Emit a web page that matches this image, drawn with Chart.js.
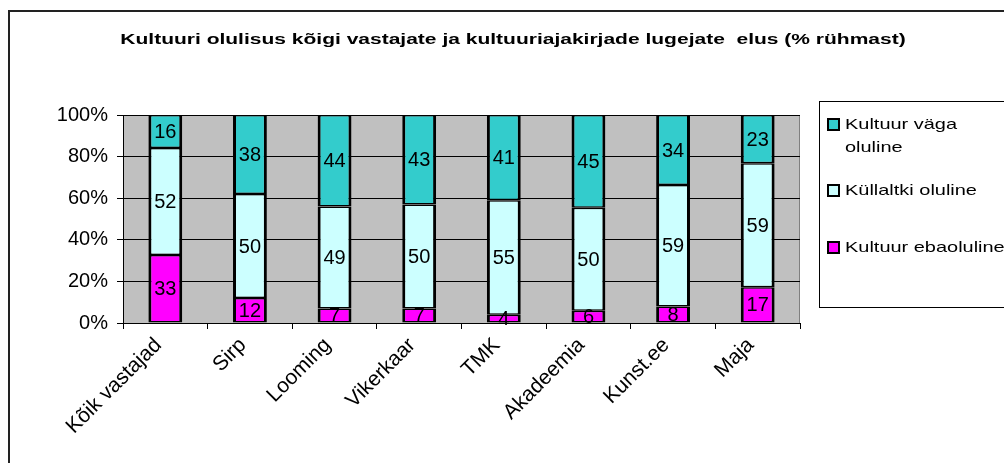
<!DOCTYPE html>
<html>
<head>
<meta charset="utf-8">
<script src="https://cdn.jsdelivr.net/npm/chart.js@4/dist/chart.umd.min.js"></script>
<style>
  html, body { margin: 0; padding: 0; background: #fff; }
  #wrap { position: relative; width: 1004px; height: 463px; overflow: hidden; }
  #frame { position: absolute; left: 8px; top: 10px; width: 1100px; height: 500px;
           border-left: 2px solid #222; border-top: 2px solid #222; }
  #c { position: absolute; left: 0; top: 0; }
</style>
</head>
<body>
<div id="wrap">
  <div id="frame"></div>
  <canvas id="c" width="1004" height="463"></canvas>
</div>
<script>
// Categories and raw values (% of group)
const categories = ["Kõik vastajad", "Sirp", "Looming", "Vikerkaar", "TMK", "Akadeemia", "Kunst.ee", "Maja"];
const vagaOluline = [16, 38, 44, 43, 41, 45, 34, 23];
const kullaltkiOluline = [52, 50, 49, 50, 55, 50, 59, 59];
const ebaoluline = [33, 12, 7, 7, 4, 6, 8, 17];
const yTicks = [0, 20, 40, 60, 80, 100];
const title = 'Kultuuri olulisus kõigi vastajate ja kultuuriajakirjade lugejate  elus (% rühmast)';

const FONT = "'Liberation Sans', Arial, sans-serif";
const STRETCH = 1.33; // the original picture is a bit wide in its title/legend text

// 100% stacked: share of each row total
const totals = categories.map((_, i) => vagaOluline[i] + kullaltkiOluline[i] + ebaoluline[i]);
const share = arr => arr.map((v, i) => v / totals[i] * 100);

function wideText(ctx, txt, x, y, sx) {
  ctx.save();
  ctx.translate(x, y);
  ctx.scale(sx, 1);
  ctx.fillText(txt, 0, 0);
  ctx.restore();
}

// grey plot background + title
const plotBg = {
  id: 'plotBg',
  beforeDraw(chart) {
    const { ctx, chartArea: a } = chart;
    ctx.save();
    ctx.fillStyle = '#C0C0C0';
    ctx.fillRect(a.left, a.top, a.right - a.left, a.bottom - a.top);
    ctx.strokeStyle = '#808080';
    ctx.lineWidth = 1;
    ctx.beginPath();
    ctx.moveTo(a.right - 0.5, a.top);
    ctx.lineTo(a.right - 0.5, a.bottom);
    ctx.stroke();

    ctx.fillStyle = '#000';
    ctx.font = 'bold 15px ' + FONT;
    ctx.textAlign = 'center';
    ctx.textBaseline = 'middle';
    wideText(ctx, title, 513, 40, 1.4);
    ctx.restore();
  }
};

// numbers in the middle of each segment
const segLabels = {
  id: 'segLabels',
  afterDatasetsDraw(chart) {
    const { ctx } = chart;
    ctx.save();
    ctx.font = '20px ' + FONT;
    ctx.fillStyle = '#000';
    ctx.textAlign = 'center';
    ctx.textBaseline = 'middle';
    chart.data.datasets.forEach((ds, di) => {
      chart.getDatasetMeta(di).data.forEach((bar, i) => {
        const y = (bar.y + bar.base) / 2;
        ctx.fillText(String(ds.raw[i]), bar.x, y + 1);
      });
    });
    ctx.restore();
  }
};

// Excel style legend box on the right
const boxLegend = {
  id: 'boxLegend',
  afterDraw(chart) {
    const { ctx } = chart;
    const items = [
      { ds: 2, lines: ['Kultuur väga', 'oluline'], y: 124 },
      { ds: 1, lines: ['Küllaltki oluline'], y: 190 },
      { ds: 0, lines: ['Kultuur ebaoluline'], y: 247 }
    ];
    ctx.save();
    ctx.strokeStyle = '#000';
    ctx.lineWidth = 1;
    ctx.strokeRect(819.5, 101.5, 220, 206);
    ctx.font = '15px ' + FONT;
    ctx.textBaseline = 'middle';
    ctx.textAlign = 'left';
    items.forEach(it => {
      const ds = chart.data.datasets[it.ds];
      ctx.fillStyle = ds.backgroundColor;
      ctx.fillRect(828, it.y - 5, 11, 11);
      ctx.lineWidth = 2;
      ctx.strokeRect(828, it.y - 5, 11, 11);
      ctx.fillStyle = '#000';
      it.lines.forEach((t, k) => wideText(ctx, t, 845, it.y + 1 + k * 23, STRETCH));
    });
    ctx.restore();
  }
};

new Chart(document.getElementById('c'), {
  type: 'bar',
  data: {
    labels: categories,
    datasets: [
      { label: 'Kultuur ebaoluline', data: share(ebaoluline), raw: ebaoluline, backgroundColor: '#FF00FF' },
      { label: 'Küllaltki oluline', data: share(kullaltkiOluline), raw: kullaltkiOluline, backgroundColor: '#CCFFFF' },
      { label: 'Kultuur väga oluline', data: share(vagaOluline), raw: vagaOluline, backgroundColor: '#33CCCC' }
    ].map(d => Object.assign(d, {
      borderColor: '#000',
      borderWidth: { left: 3, right: 3, top: 1.5, bottom: 1.5 },
      borderSkipped: false, inflateAmount: 0,
      barPercentage: 0.4, categoryPercentage: 1.0
    }))
  },
  options: {
    responsive: false,
    animation: false,
    layout: { padding: { top: 115, left: 0, right: 204, bottom: 0 } },
    plugins: {
      legend: { display: false },
      tooltip: { enabled: false },
      title: { display: false }
    },
    scales: {
      x: {
        stacked: true,
        offset: true,
        grid: { display: true, drawOnChartArea: false, drawTicks: true, tickLength: 6, color: '#000', offset: true },
        border: { color: '#000', width: 1 },
        ticks: {
          color: '#000', font: { family: FONT, size: 21 },
          autoSkip: false, minRotation: 45, maxRotation: 45, padding: 4, labelOffset: -7
        },
        afterFit(s) { s.height = 140; }
      },
      y: {
        stacked: true,
        min: 0, max: 100,
        afterBuildTicks(s) { s.ticks = yTicks.map(v => ({ value: v })); },
        grid: { color: '#000', lineWidth: 1, tickLength: 6 },
        border: { color: '#000', width: 1 },
        ticks: {
          color: '#000', font: { family: FONT, size: 20 }, padding: 9,
          callback: v => v + '%'
        },
        afterFit(s) { s.width = 123; }
      }
    }
  },
  plugins: [plotBg, segLabels, boxLegend]
});
</script>
</body>
</html>
